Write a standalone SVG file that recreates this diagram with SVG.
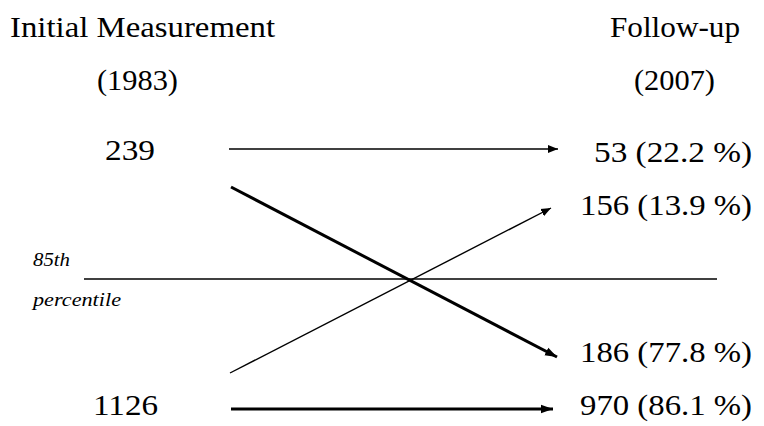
<svg xmlns="http://www.w3.org/2000/svg" width="764" height="426" viewBox="0 0 764 426">
<defs>
<marker id="ah" viewBox="0 0 10 10" refX="10" refY="5" markerWidth="10" markerHeight="10" markerUnits="userSpaceOnUse" orient="auto">
<path d="M0,1 L10,5 L0,9 Z" fill="#000"/>
</marker>
<marker id="ahb" viewBox="0 0 10 10" refX="10" refY="5" markerWidth="12" markerHeight="12" markerUnits="userSpaceOnUse" orient="auto">
<path d="M0,1.5 L10,5 L0,8.5 Z" fill="#000"/>
</marker>
<style>
text{font-family:"Liberation Serif","Times New Roman","DejaVu Serif",serif;fill:#000}
.h{font-size:29px}
.n{font-size:29px}
.i{font-size:18px;font-style:italic}
.thin{stroke:#000;stroke-width:1.4;fill:none}
.thick{stroke:#000;stroke-width:3;fill:none}
</style>
</defs>
<rect width="764" height="426" fill="#fff"/>
<g id="header-initial"><text class="h" x="10" y="37" textLength="265" lengthAdjust="spacingAndGlyphs">Initial Measurement</text><text class="h" x="97" y="90" textLength="81" lengthAdjust="spacingAndGlyphs">(1983)</text></g>
<g id="header-followup"><text class="h" x="610" y="37" textLength="130" lengthAdjust="spacingAndGlyphs">Follow-up</text><text class="h" x="634" y="90" textLength="81" lengthAdjust="spacingAndGlyphs">(2007)</text></g>
<g id="n239"><text class="n" x="105" y="160" textLength="50" lengthAdjust="spacingAndGlyphs">239</text></g>
<g id="n1126"><text class="n" x="93" y="415" textLength="65" lengthAdjust="spacingAndGlyphs">1126</text></g>
<g id="n53"><text class="n" x="594" y="162" textLength="158" lengthAdjust="spacingAndGlyphs">53 (22.2 %)</text></g>
<g id="n156"><text class="n" x="580" y="215" textLength="172" lengthAdjust="spacingAndGlyphs">156 (13.9 %)</text></g>
<g id="n186"><text class="n" x="580" y="362" textLength="172" lengthAdjust="spacingAndGlyphs">186 (77.8 %)</text></g>
<g id="n970"><text class="n" x="580" y="415" textLength="172" lengthAdjust="spacingAndGlyphs">970 (86.1 %)</text></g>
<g id="percentile-label"><text class="i" x="33" y="266" textLength="37" lengthAdjust="spacingAndGlyphs">85th</text><text class="i" x="33" y="306" textLength="88" lengthAdjust="spacingAndGlyphs">percentile</text></g>
<g id="connectors">
<line class="thin" x1="84" y1="279" x2="717" y2="279"/>
<line class="thin" x1="229" y1="149" x2="558" y2="149" marker-end="url(#ah)"/>
<line class="thick" x1="231" y1="187" x2="557" y2="357" marker-end="url(#ahb)"/>
<line class="thin" x1="230" y1="373" x2="551" y2="208" marker-end="url(#ah)"/>
<line class="thick" x1="231" y1="409" x2="553" y2="409" marker-end="url(#ahb)"/>
</g>
</svg>
